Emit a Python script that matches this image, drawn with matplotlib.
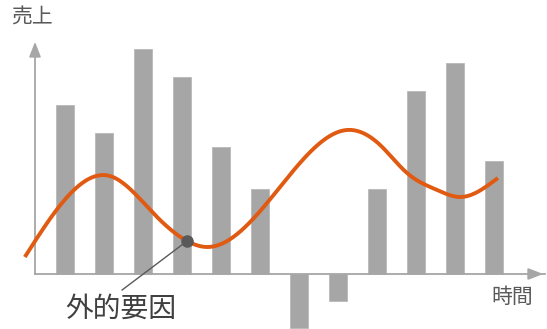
import numpy as np
import matplotlib
matplotlib.use("Agg")
import matplotlib.pyplot as plt

plt.rcParams['font.family'] = ['Noto Sans CJK JP', 'DejaVu Sans']

# ---- data ----
periods = np.arange(1, 13)
sales = [169, 141, 225, 197, 127, 85, -54, -27, 85, 183, 211, 113]
trend_x = [-0.03, 2.15, 3.31, 4.13, 4.67, 6.18, 8.23, 9.08, 9.77, 10.54, 11.13, 12.10]
trend_y = [17, 98, 59, 33, 27, 71, 144, 129, 101, 84, 77, 96]
event_x = 4.13
event_label = "外的要因"
y_label = "売上"
x_label = "時間"

BAR_C = "#a6a6a6"
LINE_C = "#e05a12"
TEXT_C = "#595959"
AXIS_C = "#a6a6a6"


def natural_spline(x, y, xs):
    x = np.asarray(x, float); y = np.asarray(y, float)
    n = len(x)
    h = np.diff(x)
    A = np.zeros((n, n)); b = np.zeros(n)
    A[0, 0] = A[-1, -1] = 1
    for i in range(1, n - 1):
        A[i, i - 1] = h[i - 1]
        A[i, i] = 2 * (h[i - 1] + h[i])
        A[i, i + 1] = h[i]
        b[i] = 3 * ((y[i + 1] - y[i]) / h[i] - (y[i] - y[i - 1]) / h[i - 1])
    c = np.linalg.solve(A, b)
    out = np.empty_like(xs)
    for k, xv in enumerate(xs):
        i = min(max(np.searchsorted(x, xv) - 1, 0), n - 2)
        dx = xv - x[i]
        bi = (y[i + 1] - y[i]) / h[i] - h[i] * (2 * c[i] + c[i + 1]) / 3
        di = (c[i + 1] - c[i]) / (3 * h[i])
        out[k] = y[i] + bi * dx + c[i] * dx ** 2 + di * dx ** 3
    return out


fig = plt.figure(figsize=(5.47, 3.29), dpi=100)
ax = fig.add_axes([0, 0, 1, 1])
x0, x1 = -0.667, 13.359
y0, y1 = -55, 274
ax.set_xlim(x0, x1)
ax.set_ylim(y0, y1)
ax.axis('off')

ax.bar(periods, sales, width=0.46, color=BAR_C, edgecolor="#b8b8b8", linewidth=0.6, zorder=2)

# axes with arrows
ax_x = x0 + 35 / 39.0
ax.plot([ax_x, x1 - 0.05], [0, 0], color=AXIS_C, lw=1.3, zorder=3)
ax.annotate('', xy=(x0 + 546 / 39.0, 0), xytext=(x0 + 530 / 39.0, 0),
            arrowprops=dict(arrowstyle='-|>,head_length=0.9,head_width=0.35', color=AXIS_C, lw=1.3), zorder=3)
ax.plot([ax_x, ax_x], [0, 225], color=AXIS_C, lw=1.3, zorder=3)
ax.annotate('', xy=(ax_x, 274 - 39), xytext=(ax_x, 274 - 55),
            arrowprops=dict(arrowstyle='-|>,head_length=0.9,head_width=0.35', color=AXIS_C, lw=1.3), zorder=3)

xs = np.linspace(trend_x[0], trend_x[-1], 400)
ys = natural_spline(trend_x, trend_y, xs)
ax.plot(xs, ys, color=LINE_C, lw=2.8, solid_capstyle='butt', zorder=4)

ev_y = natural_spline(trend_x, trend_y, np.array([event_x]))[0]
ax.plot([event_x, event_x - 65 / 39.0], [ev_y, ev_y - 49], color=TEXT_C, lw=1.0, zorder=5)
ax.plot([event_x], [ev_y], 'o', color=TEXT_C, markersize=8, zorder=6)

ax.text(x0 + 121 / 39.0, 274 - 309, event_label, fontsize=20, color="#404040",
        ha='center', va='center')
ax.text(x0 + 32 / 39.0, 274 - 18, y_label, fontsize=15, color=TEXT_C, ha='center', va='center')
ax.text(x0 + 512 / 39.0, 274 - 297, x_label, fontsize=15, color=TEXT_C, ha='center', va='center')

fig.savefig("out.png", dpi=100)
